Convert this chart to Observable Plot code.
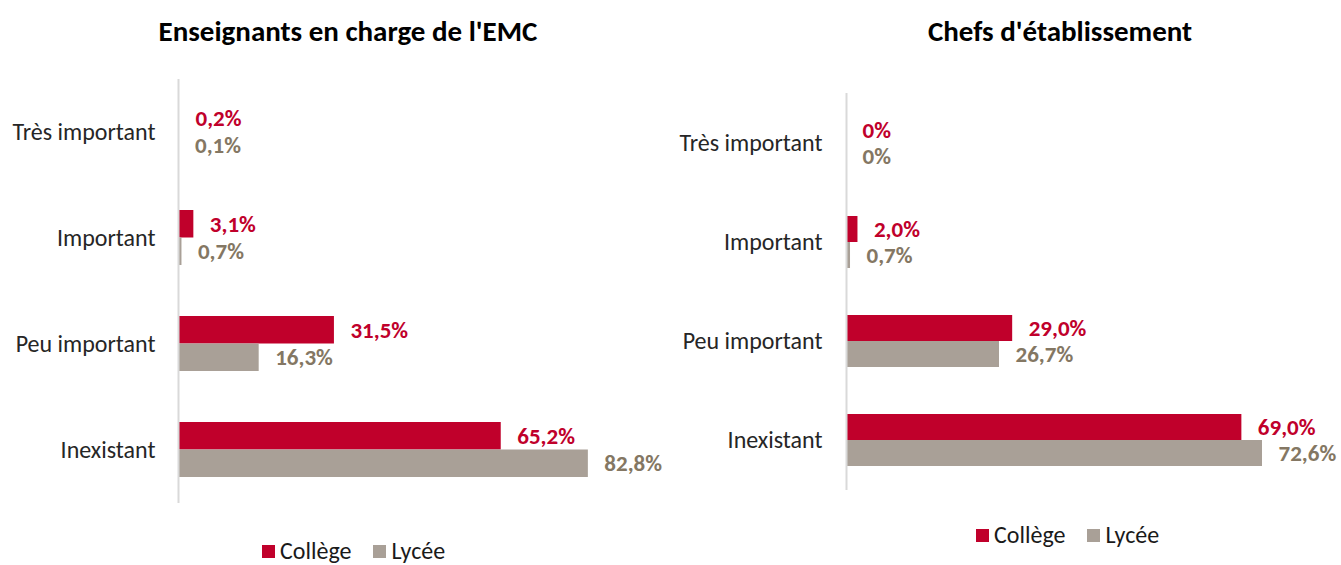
<!DOCTYPE html>
<html>
<head>
<meta charset="utf-8">
<script src="https://cdn.jsdelivr.net/npm/d3@7"></script>
<script src="https://cdn.jsdelivr.net/npm/@observablehq/plot@0.6"></script>
<style>
  html, body { margin: 0; padding: 0; background: #fff; }
  body { width: 1341px; height: 565px; position: relative; overflow: hidden; font-family: Carlito, Lato, sans-serif; }
  .panel { position: absolute; top: 0; }
  .title { position: absolute; font-weight: bold; font-size: 29px; color: #000; white-space: nowrap; transform: translate(-50%, -50%); }
  .legend { position: absolute; display: flex; align-items: center; font-size: 24px; line-height: 26px; color: #1a1a1a; white-space: nowrap; transform: translateY(-50%); }
  .sw { display: inline-block; width: 13px; height: 13px; margin-right: 5px; }
  .item { display: flex; align-items: center; margin-right: 22px; }
</style>
</head>
<body>
<div id="left" class="panel" style="left:0px"></div>
<div id="right" class="panel" style="left:670px"></div>
<div class="title" style="left:348px; top:31px">Enseignants en charge de l'EMC</div>
<div class="title" style="left:1060px; top:31px">Chefs d'établissement</div>
<div id="legL" class="legend" style="left:262px; top:551px"></div>
<div id="legR" class="legend" style="left:976px; top:535px"></div>
<script>
const categories = ["Très important", "Important", "Peu important", "Inexistant"];
const series = ["Collège", "Lycée"];
const enseignantsCollege = [0.2, 3.1, 31.5, 65.2];
const enseignantsLycee = [0.1, 0.7, 16.3, 82.8];
const chefsCollege = [0, 2.0, 29.0, 69.0];
const chefsLycee = [0, 0.7, 26.7, 72.6];

const colors = { "Collège": "#C0002B", "Lycée": "#A9A097" };
const labelColors = { "Collège": "#C0002B", "Lycée": "#847763" };

const fmt = v => v === 0 ? "0%" : v.toFixed(1).replace(".", ",") + "%";

function makePanel(college, lycee, opt) {
  const rows = categories.map((c, i) => ({ category: c, college: college[i], lycee: lycee[i] }));
  const half = opt.bw / 2;
  const font = "Carlito, Lato, sans-serif";
  return Plot.plot({
    width: opt.width,
    height: opt.height,
    marginLeft: opt.marginLeft,
    marginRight: opt.marginRight,
    marginTop: opt.marginTop,
    marginBottom: opt.marginBottom,
    style: { fontFamily: font, background: "transparent", overflow: "visible" },
    x: { domain: opt.xDomain, axis: null },
    y: { domain: categories, paddingInner: opt.pad, paddingOuter: opt.pad / 2, axis: null },
    marks: [
      Plot.barX(rows, { x: "college", y: "category", fill: colors["Collège"], insetBottom: half, insetTop: 0 }),
      Plot.barX(rows, { x: "lycee", y: "category", fill: colors["Lycée"], insetTop: half, insetBottom: 0 }),
      Plot.ruleX([0], { stroke: "#d9d9d9", strokeWidth: 2 }),
      Plot.text(rows, { x: "college", y: "category", text: d => fmt(d.college), dx: 16, dy: -half / 2, textAnchor: "start", fill: labelColors["Collège"], fontWeight: "bold", fontSize: 23 }),
      Plot.text(rows, { x: "lycee", y: "category", text: d => fmt(d.lycee), dx: 16, dy: half / 2, textAnchor: "start", fill: labelColors["Lycée"], fontWeight: "bold", fontSize: 23 }),
      Plot.axisY({ tickSize: 0, tickPadding: opt.tickPadding, fontSize: 24, fill: "#262626", label: null })
    ]
  });
}

document.getElementById("left").appendChild(makePanel(enseignantsCollege, enseignantsLycee, {
  width: 660, height: 510, marginLeft: 178, marginRight: 36.5, marginTop: 79, marginBottom: 7,
  xDomain: [0, 90], pad: 0.48, bw: 55, tickPadding: 23
}));
document.getElementById("right").appendChild(makePanel(chefsCollege, chefsLycee, {
  width: 671, height: 500, marginLeft: 176, marginRight: 36.6, marginTop: 93, marginBottom: 10,
  xDomain: [0, 80], pad: 0.476, bw: 52, tickPadding: 24
}));

function legend(id) {
  const el = document.getElementById(id);
  series.forEach(s => {
    const it = document.createElement("div");
    it.className = "item";
    const sw = document.createElement("span");
    sw.className = "sw";
    sw.style.background = colors[s];
    it.appendChild(sw);
    it.appendChild(document.createTextNode(s));
    el.appendChild(it);
  });
}
legend("legL");
legend("legR");
</script>
</body>
</html>
